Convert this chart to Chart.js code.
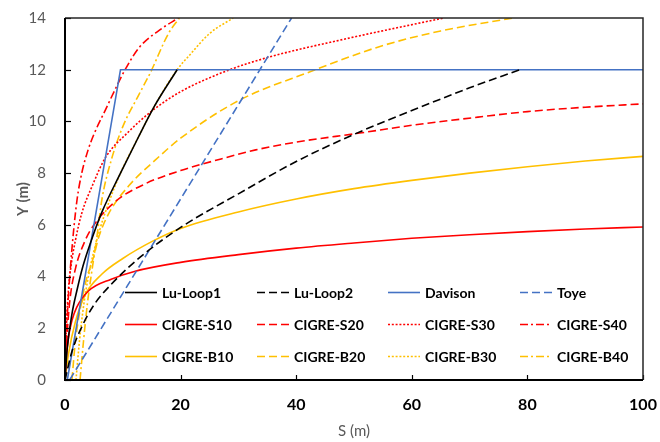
<!DOCTYPE html>
<html>
<head>
<meta charset="utf-8">
<script src="https://cdn.jsdelivr.net/npm/chart.js@4.4.1/dist/chart.umd.min.js"></script>
<style>
  html, body { margin: 0; padding: 0; background: #fff; }
  #wrap { width: 660px; height: 442px; }
</style>
</head>
<body>
<div id="wrap"><canvas id="chart" width="660" height="442"></canvas></div>
<script>
// Series: S (m) and Y (m)
const luLoop1S = [0, 0.35, 1.2, 2.1, 3.1, 4.4, 6.4, 9.6, 12.6, 15.5, 19.4];
const luLoop1Y = [0, 1.15, 2.55, 3.5, 4.4, 5.3, 6.5, 8.0, 9.35, 10.6, 12.0];

const luLoop2S = [0, 1.2, 2.9, 5, 8, 13, 20, 30, 40, 50, 60, 70, 78.7];
const luLoop2Y = [0, 1.1, 2.05, 2.9, 3.7, 4.75, 5.9, 7.2, 8.45, 9.5, 10.42, 11.3, 12];

const davisonS = [0.4, 9.6, 100];
const davisonY = [0, 12, 12];

const toyeS = [0.8, 39.2];
const toyeY = [0, 14];

const s10S = [0, 0.2, 0.6, 1.2, 2.0, 4.1, 8, 12, 20, 30, 40, 50, 60, 70, 80, 90, 100];
const s10Y = [0, 0.8, 1.65, 2.3, 2.8, 3.45, 3.9, 4.2, 4.55, 4.85, 5.1, 5.3, 5.48, 5.62, 5.74, 5.84, 5.92];

const s20S = [0, 0.3, 0.8, 1.8, 3.5, 4.7, 8.7, 14, 20, 27, 33, 40, 51, 60, 72, 80, 90, 100];
const s20Y = [0, 1.5, 3, 4.3, 5.4, 5.9, 6.9, 7.6, 8.1, 8.55, 8.9, 9.2, 9.55, 9.85, 10.18, 10.38, 10.55, 10.68];

const s30S = [0, 0.2, 0.6, 1.1, 1.8, 2.9, 4.7, 7, 11, 15, 20, 28.5, 35.5, 48.7, 65.5];
const s30Y = [0, 1.8, 3.5, 4.5, 5.4, 6.45, 7.5, 8.6, 9.6, 10.4, 11.15, 12, 12.5, 13.2, 14];

const s40S = [0, 0.3, 0.7, 1.1, 1.5, 2.1, 2.9, 4.0, 5.0, 7, 8.7, 10.4, 12.8, 16.8, 19.6];
const s40Y = [0, 2, 3.6, 4.8, 5.8, 7.0, 8.0, 8.9, 9.5, 10.45, 11.25, 12.0, 12.85, 13.6, 14];

const b10S = [0, 0.6, 1.8, 3.5, 6.4, 10, 15, 20, 30, 40, 50, 60, 70, 80, 90, 100];
const b10Y = [0, 1.0, 2.25, 3.3, 4.1, 4.7, 5.35, 5.86, 6.5, 7.0, 7.4, 7.72, 8.0, 8.25, 8.47, 8.65];

const b20S = [1.2, 1.8, 2.6, 3.6, 5, 5.8, 7.6, 11, 15.6, 20, 30, 42.4, 54.5, 65, 77.5];
const b20Y = [0, 1.5, 2.7, 3.8, 4.8, 5.5, 6.45, 7.5, 8.5, 9.35, 10.8, 11.92, 12.9, 13.5, 14];

const b30S = [1.9, 2.5, 3.3, 4.5, 6, 7.8, 9.6, 12.6, 15.5, 19.4, 21.7, 25, 29.1];
const b30Y = [0, 1.5, 3, 4.5, 5.8, 7.0, 8.0, 9.35, 10.6, 12, 12.6, 13.4, 14];

const b40S = [2.6, 3.2, 3.9, 4.9, 5.5, 6.4, 8, 10, 12.7, 14.8, 17.9, 19.8];
const b40Y = [0, 1.5, 3, 4.6, 5.5, 7.0, 8.5, 9.8, 11.0, 11.9, 13.4, 14];

const xTicks = [0, 20, 40, 60, 80, 100];
const yTicks = [0, 2, 4, 6, 8, 10, 12, 14];

const BLACK = '#000000', BLUE = '#4472C4', RED = '#FF0000', YELLOW = '#FFC000';
const DASH = [8, 4], DOT = [2, 1.8], DASHDOT = [8, 3, 2, 3];

const pts = (xs, ys) => xs.map((x, i) => ({ x: x, y: ys[i] }));

function series(label, xs, ys, color, dash, straight) {
    return {
        label: label,
        data: pts(xs, ys),
        borderColor: color,
        backgroundColor: color,
        borderWidth: 1.6,
        borderDash: dash || [],
        pointRadius: 0,
        fill: false,
        tension: straight ? 0 : 0.4,
        cubicInterpolationMode: straight ? 'default' : 'monotone'
    };
}

const datasets = [
    series('Lu-Loop1', luLoop1S, luLoop1Y, BLACK),
    series('Lu-Loop2', luLoop2S, luLoop2Y, BLACK, DASH),
    series('Davison', davisonS, davisonY, BLUE, null, true),
    series('Toye', toyeS, toyeY, BLUE, DASH, true),
    series('CIGRE-S10', s10S, s10Y, RED),
    series('CIGRE-S20', s20S, s20Y, RED, DASH),
    series('CIGRE-S30', s30S, s30Y, RED, DOT),
    series('CIGRE-S40', s40S, s40Y, RED, DASHDOT),
    series('CIGRE-B10', b10S, b10Y, YELLOW),
    series('CIGRE-B20', b20S, b20Y, YELLOW, DASH),
    series('CIGRE-B30', b30S, b30Y, YELLOW, DOT),
    series('CIGRE-B40', b40S, b40Y, YELLOW, DASHDOT)
];

// frame, inside ticks and a 4-column legend
const framePlugin = {
    id: 'frame',
    afterDatasetsDraw(chart) {
        const { ctx, chartArea: a, scales } = chart;
        ctx.save();
        ctx.strokeStyle = '#000';
        ctx.lineWidth = 1.2;
        // ticks pointing inward
        scales.x.ticks.forEach(t => {
            const px = Math.round(scales.x.getPixelForValue(t.value)) + 0.5;
            ctx.beginPath(); ctx.moveTo(px, a.bottom); ctx.lineTo(px, a.bottom - 5); ctx.stroke();
        });
        scales.y.ticks.forEach(t => {
            const py = Math.round(scales.y.getPixelForValue(t.value)) + 0.5;
            ctx.beginPath(); ctx.moveTo(a.left, py); ctx.lineTo(a.left + 6, py); ctx.stroke();
        });
        ctx.strokeStyle = '#262626';
        ctx.lineWidth = 1.5;
        ctx.beginPath();
        ctx.moveTo(a.left, a.top); ctx.lineTo(a.right, a.top); ctx.lineTo(a.right, a.bottom);
        ctx.stroke();
        ctx.strokeStyle = '#000';
        ctx.lineWidth = 2;
        ctx.beginPath();
        ctx.moveTo(a.left, a.top); ctx.lineTo(a.left, a.bottom); ctx.lineTo(a.right, a.bottom);
        ctx.stroke();

        // legend
        const colX = [125, 257, 388, 520];
        const rowY = [292, 324, 356];
        ctx.font = 'bold 14px Lato, "Open Sans", sans-serif';
        ctx.textBaseline = 'middle';
        ctx.textAlign = 'left';
        chart.data.datasets.forEach((ds, i) => {
            const x0 = colX[i % 4], y0 = rowY[Math.floor(i / 4)];
            ctx.strokeStyle = ds.borderColor;
            ctx.lineWidth = ds.borderWidth;
            ctx.setLineDash(ds.borderDash);
            ctx.beginPath(); ctx.moveTo(x0, y0 + 0.5); ctx.lineTo(x0 + 32, y0 + 0.5); ctx.stroke();
            ctx.setLineDash([]);
            ctx.fillStyle = '#000';
            ctx.fillText(ds.label, x0 + 37, y0 + 1);
        });
        ctx.restore();
    }
};

new Chart(document.getElementById('chart'), {
    type: 'line',
    data: { datasets: datasets },
    options: {
        responsive: false,
        animation: false,
        layout: { padding: { top: 18, right: 17, left: 0, bottom: 0 } },
        plugins: { legend: { display: false }, tooltip: { enabled: false } },
        scales: {
            x: {
                type: 'linear',
                min: 0, max: 100,
                afterBuildTicks: s => { s.ticks = xTicks.map(v => ({ value: v })); },
                afterFit: s => { s.height = 62; s.paddingLeft = 0; s.paddingRight = 0; },
                grid: { display: false },
                border: { display: false },
                ticks: { color: '#000', padding: 7, maxRotation: 0,
                         font: { family: 'Lato, "Open Sans", sans-serif', size: 16, weight: 'bold' } },
                title: { display: true, text: 'S (m)', color: '#595959', padding: { top: 2, bottom: 2 },
                         font: { family: 'Lato, "Open Sans", sans-serif', size: 15 } }
            },
            y: {
                min: 0, max: 14,
                afterBuildTicks: s => { s.ticks = yTicks.map(v => ({ value: v })); },
                afterFit: s => { s.width = 65; s.paddingTop = 0; s.paddingBottom = 0; },
                grid: { display: false },
                border: { display: false },
                ticks: { color: '#595959', padding: 11,
                         font: { family: 'Lato, "Open Sans", sans-serif', size: 15 } },
                title: { display: true, text: 'Y (m)', color: '#595959', padding: { top: 14, bottom: 0 },
                         font: { family: 'Lato, "Open Sans", sans-serif', size: 15, weight: 'bold' } }
            }
        }
    },
    plugins: [framePlugin]
});
</script>
</body>
</html>
